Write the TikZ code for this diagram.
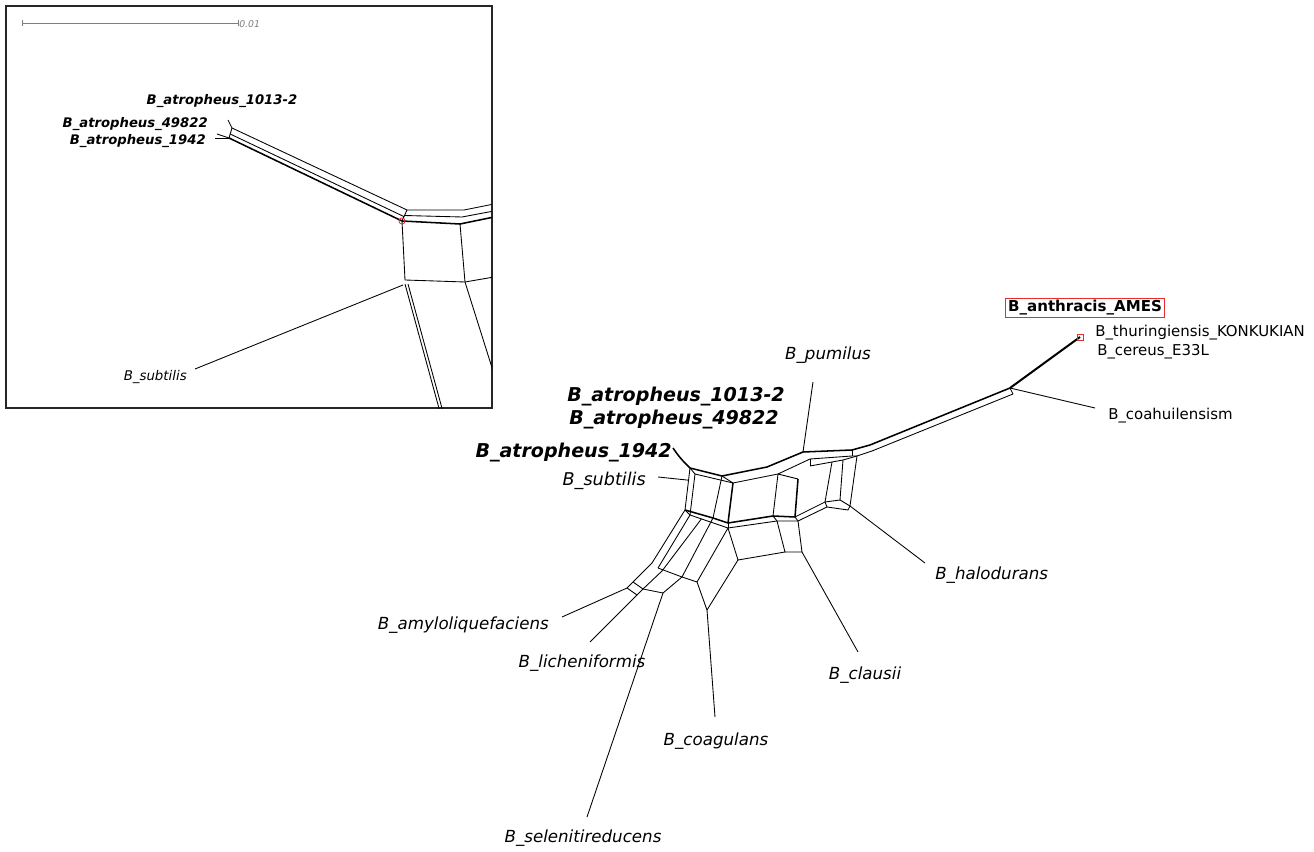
\documentclass[tikz,border=0pt]{standalone}
\usepackage{fontspec}
\setmainfont{DejaVu Sans}
\usetikzlibrary{calc}
\definecolor{bargray}{RGB}{125,125,125}
\definecolor{markred}{RGB}{232,45,45}

\begin{document}
\begin{tikzpicture}[x=0.75pt, y=-0.75pt,
  net/.style={line width=0.65pt, black},
  netthick/.style={line width=1.15pt, black},
  leaf/.style={font=\fontsize{12.5}{14}\selectfont\itshape, inner sep=0pt},
  bigleaf/.style={font=\fontsize{14.3}{16}\selectfont\bfseries\itshape, inner sep=0pt},
  plainleaf/.style={font=\fontsize{11.2}{13}\selectfont, inner sep=0pt},
  insetleaf/.style={font=\fontsize{9.9}{11}\selectfont\bfseries\itshape, inner sep=0pt}]
\useasboundingbox (0,0) rectangle (1314,852);

% inset
\draw[line width=0.9pt, black!85] (6,6) rectangle (492,408);
\coordinate (sb1) at (22,23); \coordinate (sb2) at (238,23);
\draw[bargray, line width=0.6pt] (sb1) -- (sb2);
\draw[bargray, line width=0.6pt] ($(sb1)+(0,-3)$) -- ($(sb1)+(0,3)$);
\draw[bargray, line width=0.6pt] ($(sb2)+(0,-3)$) -- ($(sb2)+(0,3)$);
\node[anchor=west, inner sep=0pt, text=bargray, font=\fontsize{7}{8}\selectfont\itshape] (sblabel) at (239,24) {0.01};
\foreach \n/\x/\y in {ia/232/128, ib/229/138, ic/407/210, id/402/221, ie/464/210,
  ig/460/224, ih/405/280, ik/465/282}
  \coordinate (\n) at (\x,\y);
\begin{scope}
\clip (6,6) rectangle (492,408);
\draw[net] (228,120) -- (ia); \draw[net] (217,134) -- (ib); \draw[net] (215,138) -- (ib);
\draw[net] (ia) -- (ic); \draw[netthick] (ib) -- (id);
\draw[net] ($(ia)!0.6!(ib)$) -- ($(ic)!0.6!(id)$);
\draw[net] (ia) -- (ib); \draw[net] (ic) -- (id);
\draw[net] (ic) -- (ie) -- (494,204);
\draw[net] ($(ic)!0.5!(id)$) -- ($(ie)!0.5!(ig)$) -- (494,211);
\draw[netthick] (id) -- (ig) -- (494,217);
\draw[net] (id) -- (ih) -- (ik) -- (494,277);
\draw[net] (ig) -- (ik) -- (494,374);
\draw[net] (405,284) -- (440,412); \draw[net] (408,284) -- (443,412);
\draw[net] (403,285) -- (195,369);
\draw[markred, line width=0.6pt] (id) circle[radius=2.3pt];
\end{scope}
\node[insetleaf] (iatro1013) at (222,101) {B\_atropheus\_1013-2};
\node[insetleaf, anchor=east] (iatro49822) at (208,124) {B\_atropheus\_49822};
\node[insetleaf, anchor=east] (iatro1942) at (206,141) {B\_atropheus\_1942};
\node[font=\fontsize{10}{12}\selectfont\itshape, anchor=east, inner sep=0pt] (isubtilis) at (187,377) {B\_subtilis};

% main network
\foreach \n/\x/\y in {
  t0/673/448, t1/690/468, t2/722/476, t3/767/467, t4/803/452, t5/852/450, t6/870/445,
  s1/695/474, s2/733/483, s3/778/474, s4/810/459, s5/852/456,
  r1/798/479, r2/810/466, r3/832/462, r4/843/460, r5/857/456, r6/872/451,
  j1/1010/388, j2/1013/394, tip/1080/337,
  b1/685/510, b2/713/518, b3/728/523, b4/773/516, b5/795/517, b6/825/502, b7/840/500, b8/850/506,
  c1/690/515, c3/728/528, c4/777/521, c5/798/521, c6/827/507, c8/848/510,
  d1/738/560, d2/785/552, d3/802/552, e1/707/610,
  f1/652/563, f2/658/568, f3/662/571, g1/633/582, g2/627/588, g3/643/589, g4/637/595,
  h1/682/577, h2/697/582, h3/663/593,
  pum/813/382, sub/658/477, amy/562/617, lic/590/642, sel/587/817, coa/715/717,
  cla/858/652, hal/925/563, coh/1095/408}
  \coordinate (\n) at (\x,\y);
\coordinate (sa) at ($(t1)!0.29!(b1)$);

\draw[netthick] (t0) to[bend right=6] (t1);
\draw[netthick] (t1) -- (t2) -- (t3) -- (t4) -- (t5) -- (t6);
\draw[net] (t1) -- (s1); \draw[net] (t2) -- (s2);
\draw[net] (s1) -- (s2) -- (s3) -- (s4) -- (s5) -- (r5);
\draw[net] (s3) -- (r1); \draw[net] (r2) -- (s4);
\draw[net] (r2) -- (r3) -- (r4) -- (r5) -- (r6);
\draw[net] (t5) -- (s5);
\draw[netthick] (t6) -- (j1); \draw[net] (r6) -- (j2); \draw[net] (j1) -- (j2);
\draw[line width=1.5pt] (j1) -- (tip);
\draw[net] (t1) -- (b1); \draw[net] (s1) -- (c1); \draw[net] (t2) -- (b2);
\draw[netthick] (s2) -- (b3); \draw[net] (s3) -- (b4); \draw[netthick] (r1) -- (b5);
\draw[net] (r3) -- (b6); \draw[net] (r4) -- (b7); \draw[net] (r5) -- (b8);
\draw[netthick] (b1) -- (b2) -- (b3) -- (b4) -- (b5);
\draw[net] (b5) -- (b6) -- (b7) -- (b8);
\draw[net] (b1) -- (c1) -- (c3) -- (c4) -- (c5) -- (c6) -- (c8) -- (b8);
\draw[net] (b3) -- (c3); \draw[net] (b4) -- (c4); \draw[net] (b5) -- (c5);
\draw[net] (b6) -- (c6);
\draw[net] (c3) -- (d1) -- (d2) -- (c4); \draw[net] (d2) -- (d3) -- (c5);
\draw[net] (d1) -- (e1);
\draw[net] (b1) -- (f1); \draw[net] (c1) -- (f2); \draw[net] ($(c1)!0.3!(c3)$) -- (f3);
\draw[net] (b2) -- (h1); \draw[net] (c3) -- (h2);
\draw[net] (f2) -- (h1) -- (h2) -- (e1);
\draw[net] (f1) -- (g1) -- (g2); \draw[net] (f3) -- (g3) -- (g4);
\draw[net] (g1) -- (g3); \draw[net] (g2) -- (g4);
\draw[net] (g3) -- (h3) -- (h1);
% leaf edges
\draw[net] (t4) -- (pum); \draw[net] (sa) -- (sub);
\draw[net] (g2) -- (amy); \draw[net] (g4) -- (lic); \draw[net] (h3) -- (sel);
\draw[net] (e1) -- (coa); \draw[net] (d3) -- (cla); \draw[net] (b8) -- (hal);
\draw[net] (j1) -- (coh);
\node[draw=markred, line width=0.7pt, minimum size=4.5pt, inner sep=0pt] (tipbox) at (tip) {};

% labels
\node[leaf] (pumilus) at (828,355) {B\_pumilus};
\node[bigleaf] (atro1013) at (676,397) {B\_atropheus\_1013-2};
\node[bigleaf] (atro49822) at (674,420) {B\_atropheus\_49822};
\node[bigleaf, anchor=east] (atro1942) at (672,453) {B\_atropheus\_1942};
\node[leaf, anchor=east, font=\fontsize{13.2}{15}\selectfont\itshape] (subtilis) at (646,481) {B\_subtilis};
\node[leaf, anchor=east] (amylo) at (549,625) {B\_amyloliquefaciens};
\node[leaf] (lichen) at (582,663) {B\_licheniformis};
\node[leaf] (coag) at (716,741) {B\_coagulans};
\node[leaf] (selen) at (583,838) {B\_selenitireducens};
\node[leaf] (clausii) at (865,675) {B\_clausii};
\node[leaf, anchor=west] (halo) at (935,575) {B\_halodurans};
\node[plainleaf, anchor=west] (coahu) at (1108,416) {B\_coahuilensism};
\node[plainleaf, anchor=west] (thur) at (1095,333) {B\_thuringiensis\_KONKUKIAN};
\node[plainleaf, anchor=west] (cereus) at (1097,352) {B\_cereus\_E33L};
\node[font=\fontsize{11.3}{13}\selectfont\bfseries, draw=markred, line width=0.7pt,
  inner sep=1.8pt] (anthracis) at (1085,308) {B\_anthracis\_AMES};
\end{tikzpicture}
\end{document}
